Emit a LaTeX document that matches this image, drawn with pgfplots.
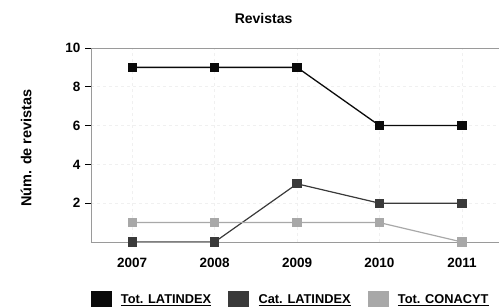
\documentclass[border=0pt]{standalone}
\usepackage{fontspec}
\setmainfont{Liberation Sans}
\usepackage{pgfplots}
\pgfplotsset{compat=1.18}
\definecolor{cBlack}{HTML}{0A0A0A}
\definecolor{cDark}{HTML}{3A3A3A}
\definecolor{cLight}{HTML}{A8A8A8}
\definecolor{cAxis}{HTML}{9A9A9A}
\begin{document}
\begin{tikzpicture}
\useasboundingbox (-91pt,-65pt) rectangle (408pt,242pt);
\begin{axis}[
  at={(0,0)}, anchor=south west,
  scale only axis, width=408pt, height=194pt,
  xmin=2006.5, xmax=2011.45, ymin=0, ymax=10,
  xtick={2007,2008,2009,2010,2011},
  xticklabels={2007,2008,2009,2010,2011},
  ytick={2,4,6,8,10},
  /pgf/number format/assume math mode=true,
  tick label style={font=\bfseries\fontsize{13.5}{15}\selectfont},
  axis x line*=bottom, axis y line*=left,
  axis line style={cAxis, line width=0.8pt},
  x axis line style={-}, y axis line style={-},
  xtick style={draw=none},
  ytick style={black, line width=0.8pt},
  tick align=outside, major tick length=6pt,
  xticklabel style={yshift=-7pt},
  yticklabel style={xshift=-1pt},
  grid=major,
  major grid style={gray!12, dashed, line width=0.8pt},
  title={\bfseries\fontsize{14}{16}\selectfont Revistas},
  title style={at={(0.423,1)}, anchor=south, yshift=15pt},
  ylabel={\bfseries\fontsize{14.5}{16}\selectfont Núm. de revistas},
  ylabel style={at={(rel axis cs:0,0.485)}, anchor=south, yshift=56pt},
  legend columns=3,
  legend style={draw=none, fill=none, at={(0.489,-0.3)}, anchor=center,
    font=\bfseries\fontsize{12.8}{14}\selectfont,
    /tikz/every even column/.append style={column sep=15pt}},
  legend cell align=left,
]
\draw[cAxis, line width=0.8pt] (rel axis cs:0,1) -- (rel axis cs:1,1);
\addplot[cBlack, line width=1.3pt, mark=square*, mark size=4pt, mark options={solid}, forget plot]
  coordinates {(2007,9) (2008,9) (2009,9) (2010,6) (2011,6)};
\addplot[cDark, line width=1.2pt, mark=square*, mark size=4pt, forget plot]
  coordinates {(2007,0) (2008,0) (2009,3) (2010,2) (2011,2)};
\addplot[cLight, line width=1.2pt, mark=square*, mark size=4pt, forget plot]
  coordinates {(2007,1) (2008,1) (2009,1) (2010,1) (2011,0)};
\addlegendimage{legend image code/.code={\fill[cBlack] (0pt,-8.5pt) rectangle (20pt,8.5pt); \path (28pt,0pt);}}
\addlegendentry{\underline{Tot. LATINDEX}}
\addlegendimage{legend image code/.code={\fill[cDark] (0pt,-8.5pt) rectangle (20pt,8.5pt); \path (28pt,0pt);}}
\addlegendentry{\underline{Cat. LATINDEX}}
\addlegendimage{legend image code/.code={\fill[cLight] (0pt,-8.5pt) rectangle (20pt,8.5pt); \path (28pt,0pt);}}
\addlegendentry{\underline{Tot. CONACYT}}
\end{axis}
\end{tikzpicture}
\end{document}
